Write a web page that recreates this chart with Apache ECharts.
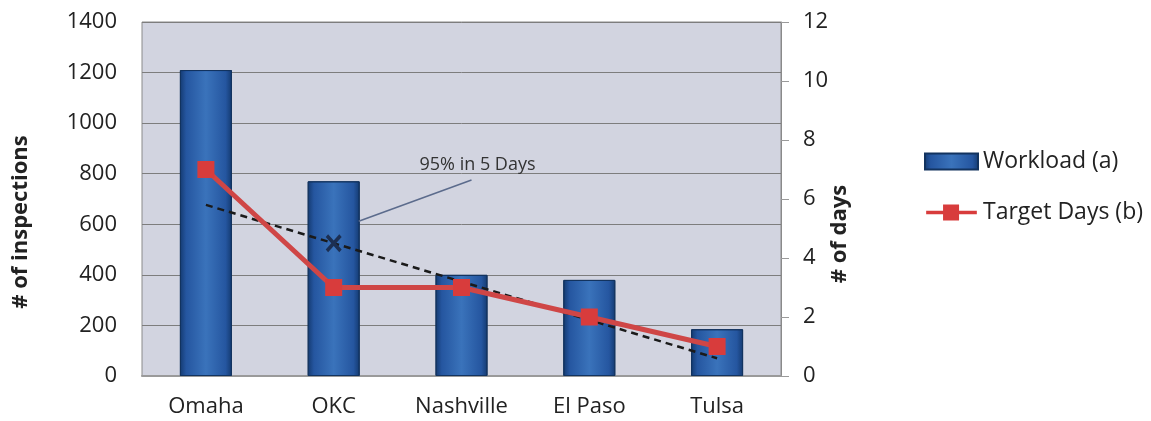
<!DOCTYPE html>
<html>
<head>
<meta charset="utf-8">
<script src="https://cdn.jsdelivr.net/npm/echarts@6/dist/echarts.min.js"></script>
<style>
  html, body { margin: 0; padding: 0; background: #ffffff; }
  #chart { width: 1151px; height: 421px; }
</style>
</head>
<body>
<div id="chart"></div>
<script>
// Inspection workload and target turnaround by office
const cities = ['Omaha', 'OKC', 'Nashville', 'El Paso', 'Tulsa'];
const workload = [1210, 770, 400, 380, 185];      // # of inspections
const targetDays = [7, 3, 3, 2, 1];               // # of days
const trendDays = [5.8, 4.5, 3.2, 1.9, 0.6];      // dashed trend of target days
const leftTicks = { min: 0, max: 1400, interval: 200 };
const rightTicks = { min: 0, max: 12, interval: 2 };
const noteText = '95% in 5 Days';

const FONT = '"Open Sans", Lato, sans-serif';
const chart = echarts.init(document.getElementById('chart'));

const barFill = new echarts.graphic.LinearGradient(0, 0, 1, 0, [
  { offset: 0, color: '#143a70' },
  { offset: 0.12, color: '#2556a0' },
  { offset: 0.5, color: '#3a73bb' },
  { offset: 0.88, color: '#2556a0' },
  { offset: 1, color: '#143a70' }
]);

const xMark = 'path://M0,1.5 L1.5,0 L5,3.5 L8.5,0 L10,1.5 L6.5,5 L10,8.5 L8.5,10 L5,6.5 L1.5,10 L0,8.5 L3.5,5 Z';
// legend icon: thick line with a square marker in the middle
const lineIcon = 'path://M0,7 L19,7 L19,0 L37,0 L37,7 L57,7 L57,11 L37,11 L37,18 L19,18 L19,11 L0,11 Z';

chart.setOption({
  animation: false,
  backgroundColor: '#ffffff',
  textStyle: { fontFamily: FONT },
  grid: {
    left: 142, right: 370, top: 22, bottom: 45,
    show: true, backgroundColor: '#d2d4e0', borderColor: '#8a8a8a', borderWidth: 1
  },
  legend: {
    orient: 'vertical',
    left: 919, top: 145,
    itemWidth: 53, itemHeight: 16, itemGap: 28,
    textStyle: { fontFamily: FONT, fontSize: 23, color: '#222' },
    data: [
      { name: 'Workload (a)', icon: 'rect' },
      { name: 'Target Days (b)', icon: lineIcon }
    ]
  },
  xAxis: {
    type: 'category',
    data: cities,
    axisTick: { show: false },
    axisLine: { lineStyle: { color: '#9a9a9a', width: 2 } },
    axisLabel: { fontSize: 22, color: '#222', margin: 20, fontFamily: FONT }
  },
  yAxis: [
    {
      type: 'value',
      min: leftTicks.min, max: leftTicks.max, interval: leftTicks.interval,
      name: '# of inspections',
      nameLocation: 'middle', nameGap: 110,
      nameMoveOverlap: false,
      nameTextStyle: { fontSize: 22, fontWeight: 'bold', color: '#222', fontFamily: FONT, padding: [0, 46, 0, 0] },
      axisLine: { show: false },
      axisTick: { show: false },
      axisLabel: { fontSize: 22, color: '#222', margin: 25, fontFamily: FONT, formatter: v => String(v) },
      splitLine: { lineStyle: { color: '#7d7d7d', width: 1 } }
    },
    {
      type: 'value',
      position: 'right',
      min: rightTicks.min, max: rightTicks.max, interval: rightTicks.interval,
      name: '# of days',
      nameLocation: 'middle', nameGap: 48,
      nameMoveOverlap: false,
      nameTextStyle: { fontSize: 22, fontWeight: 'bold', color: '#222', fontFamily: FONT, padding: [0, 70, 0, 0] },
      axisLine: { show: true, lineStyle: { color: '#8a8a8a', width: 1 } },
      axisTick: { show: true, length: 8, lineStyle: { color: '#9a9a9a' } },
      axisLabel: { fontSize: 22, color: '#222', margin: 22, fontFamily: FONT },
      splitLine: { show: false }
    }
  ],
  series: [
    {
      name: 'Workload (a)',
      type: 'bar',
      data: workload,
      barWidth: 52,
      itemStyle: { color: barFill, borderColor: '#12335f', borderWidth: 1 },
      z: 2
    },
    {
      name: 'Trend',
      type: 'line',
      yAxisIndex: 1,
      data: trendDays.map((v, i) => i === 1
        ? { value: v, symbol: xMark, symbolSize: [16, 18], itemStyle: { color: '#1c2f52' } }
        : { value: v, symbol: 'none' }),
      lineStyle: { color: '#1a1a1a', width: 2.5, type: [7, 5] },
      itemStyle: { color: '#1a1a1a' },
      showSymbol: true,
      z: 3
    },
    {
      name: 'Target Days (b)',
      type: 'line',
      yAxisIndex: 1,
      data: targetDays,
      symbol: 'rect',
      symbolSize: 17,
      lineStyle: { color: '#cf4646', width: 5 },
      itemStyle: { color: '#d83c3c' },
      z: 4
    }
  ]
});

// Callout for the "95% in 5 Days" note, anchored on the OKC bar
const from = chart.convertToPixel({ xAxisIndex: 0, yAxisIndex: 0 }, ['OKC', 612]);
const to = chart.convertToPixel({ xAxisIndex: 0, yAxisIndex: 0 }, ['Nashville', 775]);
const textAt = chart.convertToPixel({ xAxisIndex: 0, yAxisIndex: 0 }, ['Nashville', 835]);
chart.setOption({
  graphic: [
    {
      type: 'line',
      shape: { x1: from[0] + 25, y1: from[1], x2: to[0] + 10, y2: to[1] },
      style: { stroke: '#5b6b8c', lineWidth: 1.5 },
      z: 10
    },
    {
      type: 'text',
      x: textAt[0] - 42, y: textAt[1],
      style: { text: noteText, font: '18px ' + FONT, fill: '#333', textVerticalAlign: 'middle' },
      z: 10
    }
  ]
});
</script>
</body>
</html>
